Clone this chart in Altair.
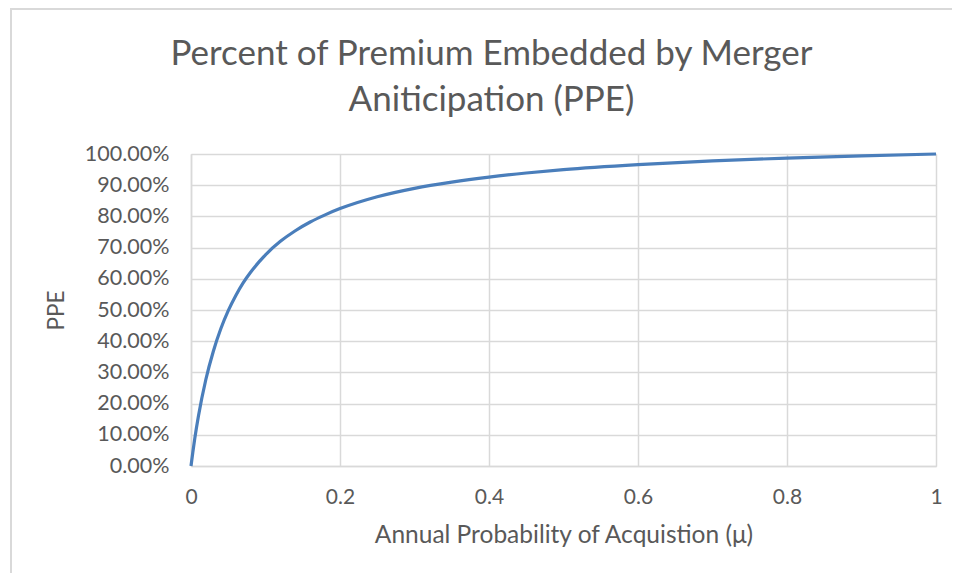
import altair as alt
import pandas as pd

# Annual probability of acquisition (mu) and PPE, estimated from the reference curve
mu = [0.0, 0.0025, 0.005, 0.01, 0.02, 0.03, 0.04, 0.05, 0.06, 0.07, 0.08, 0.10,
      0.12, 0.14, 0.16, 0.18, 0.20, 0.25, 0.30, 0.35, 0.40, 0.45, 0.50, 0.60,
      0.70, 0.80, 0.90, 1.00]
ppe = [0.0, 0.045, 0.087, 0.160, 0.278, 0.368, 0.440, 0.498, 0.546, 0.587, 0.621, 0.677,
       0.720, 0.754, 0.782, 0.805, 0.825, 0.863, 0.890, 0.910, 0.926, 0.939, 0.950, 0.966,
       0.978, 0.987, 0.994, 1.000]

df = pd.DataFrame({"mu": mu, "ppe": ppe})

FONT = "Lato"
TEXT = "#595959"
GRID = "#d9d9d9"

x_ticks = [0, 0.2, 0.4, 0.6, 0.8, 1.0]
y_ticks = [i / 10 for i in range(11)]

line = alt.Chart(df).mark_line(
    color="#4A7EBB", strokeWidth=3.2, interpolate="monotone"
).encode(
    x=alt.X("mu:Q", scale=alt.Scale(domain=[0, 1], nice=False),
            axis=alt.Axis(values=x_ticks, format="~g", title="Annual Probability of Acquistion (μ)",
                          grid=True, gridColor=GRID, gridWidth=1.5, ticks=False,
                          domainColor=GRID, domainWidth=1.5, labelFlush=False,
                          labelFont=FONT, labelFontSize=21, labelColor=TEXT, labelPadding=20,
                          titleFont=FONT, titleFontSize=24.5, titleColor=TEXT, titleFontWeight="normal",
                          titlePadding=16)),
    y=alt.Y("ppe:Q", scale=alt.Scale(domain=[0, 1], nice=False),
            axis=alt.Axis(values=y_ticks, format=".2%", title="PPE",
                          grid=True, gridColor=GRID, gridWidth=1.5, ticks=False,
                          domainColor=GRID, domainWidth=1.5,
                          labelFont=FONT, labelFontSize=21.5, labelColor=TEXT, labelPadding=22,
                          titleFont=FONT, titleFontSize=22.5, titleColor=TEXT, titleFontWeight="normal",
                          titlePadding=16)),
)

border = alt.Chart(df).mark_rect(fill=None, stroke="#d9d9d9", strokeWidth=2).encode(
    x=alt.value(-180), x2=alt.value(790), y=alt.value(-145), y2=alt.value(440)
)

chart = alt.layer(border, line).properties(
    width=745,
    height=312,
    title=alt.TitleParams(
        text=["Percent of Premium Embedded by Merger", "Aniticipation (PPE)"],
        font=FONT, fontSize=35, fontWeight="normal", color=TEXT,
        anchor="middle", lineHeight=46, offset=0, dy=110, dx=-72,
    ),
    padding={"left": 183, "top": 146, "right": 16, "bottom": 107},
    autosize=alt.AutoSizeParams(type="none"),
).configure_view(stroke=None).configure(background="white")

chart.save("out.html", embed_options={"renderer": "svg", "actions": False})
